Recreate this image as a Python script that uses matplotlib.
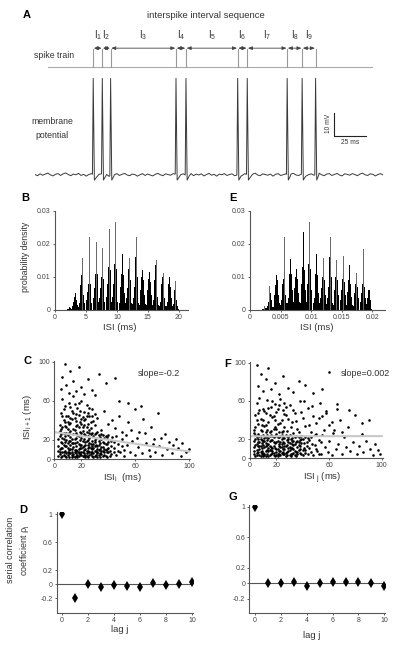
import matplotlib
matplotlib.use('Agg')
import matplotlib.pyplot as plt
import numpy as np

plt.rcParams['font.family'] = ['Liberation Sans', 'DejaVu Sans']
plt.rcParams['mathtext.fontset'] = 'custom'
plt.rcParams['mathtext.rm'] = 'Liberation Sans'
plt.rcParams['mathtext.it'] = 'Liberation Sans'

# ============ data ============
# spike times (ms) of the example trace
spike_times = [45.5, 52.6, 59.1, 110.2, 118.0, 158.4, 165.9, 197.1, 208.8, 219.3]
spike_peak = 42.0      # mV above baseline
ahp_depth = -2.2       # mV after each spike
# baseline noise of the membrane potential, one value every 2 ms (mV)
noise_mv = [0.2, -0.3, 0.5, -0.1, 0.4, 0.8, 0.1, -0.4, 0.3, 0.6, -0.2, 0.5, 0.9, 0.2, -0.3, 0.4,
            0.1, 0.7, -0.2, 0.3, -0.5, 0.2, 0.6, 0.0, -0.4, 0.3, 0.5, -0.1, 0.2, -0.6, 0.4, 0.1,
            0.6, -0.2, 0.3, 0.7, 0.0, -0.3, 0.4, 0.2, -0.5, 0.1, 0.6, -0.2, 0.4, 0.0, -0.4, 0.3,
            0.7, 0.1, -0.3, 0.5, 0.2, -0.1, 0.6, 0.3, -0.4, 0.2, 0.5, -0.2, 0.1, 0.6, -0.3, 0.4,
            0.0, 0.5, -0.4, 0.2, 0.7, -0.1, 0.3, -0.5, 0.4, 0.1, 0.6, -0.2, 0.2, 0.5, -0.3, 0.0,
            0.4, -0.2, 0.6, 0.1, -0.4, 0.3, 0.8, 0.0, -0.3, 0.5, 0.2, -0.1, 0.4, -0.5, 0.3, 0.6,
            -0.2, 0.1, 0.5, -0.3, 0.4, 0.7, 0.0, -0.2, 0.3, 0.6, -0.4, 0.2, 0.5, -0.1, 0.3, 0.8,
            0.1, -0.3, 0.4, 0.6, -0.2, 0.2, 0.7, 0.0, -0.4, 0.5, 0.3, -0.1, 0.6, 0.2, -0.3, 0.4,
            0.8, 0.1, -0.2, 0.5, 0.3, -0.4, 0.2, 0.6, 0.0]

# ISI histogram: cluster centres (ms) and bar heights (x1e-3) around each centre
hist_centres = [2.42, 3.23, 4.30, 5.48, 6.61, 7.58, 8.71, 9.68, 10.86, 11.94,
                13.06, 14.09, 15.22, 16.24, 17.37, 18.49, 19.46]
hist_heights = [
    [0.1, 0.2, 0.4, 0.8, 1.3, 0.7, 0.3, 0.1, 0.0],
    [0.5, 1.2, 2.4, 4.0, 7.3, 5.0, 3.0, 1.5, 0.8],
    [1.0, 2.2, 4.5, 7.5, 10.5, 15.6, 9.0, 4.5, 2.0],
    [1.5, 3.0, 5.5, 8.0, 9.5, 22.1, 8.0, 4.5, 2.0],
    [2.0, 3.5, 6.5, 11.0, 15.5, 20.6, 11.0, 6.0, 2.5],
    [2.0, 3.5, 6.5, 10.0, 12.5, 18.8, 9.5, 5.0, 2.5],
    [2.0, 4.0, 8.0, 13.0, 23.5, 24.5, 12.0, 6.0, 2.5],
    [2.0, 4.0, 8.0, 14.0, 18.0, 26.5, 12.5, 6.0, 2.5],
    [2.0, 3.5, 7.0, 11.0, 17.0, 18.2, 10.5, 5.0, 2.0],
    [1.8, 3.5, 6.5, 10.0, 12.5, 15.6, 9.0, 4.5, 2.0],
    [1.8, 3.5, 7.0, 11.0, 16.0, 22.1, 10.0, 5.0, 2.0],
    [1.5, 3.0, 6.0, 10.0, 12.0, 15.1, 9.0, 4.5, 1.8],
    [1.5, 3.0, 6.0, 9.5, 11.5, 16.3, 8.5, 4.5, 1.8],
    [1.5, 3.0, 5.5, 9.0, 13.5, 15.1, 8.0, 4.0, 1.5],
    [1.2, 2.5, 5.0, 8.0, 10.0, 11.3, 7.0, 3.5, 1.2],
    [1.2, 2.5, 5.0, 8.0, 10.0, 18.3, 7.0, 3.5, 1.2],
    [0.8, 1.8, 3.5, 6.0, 8.8, 6.0, 3.0, 1.2, 0.3],
]
bin_ms = 0.12

# return maps (ISI_i, ISI_i+1) in ms
pairs_c = [(4,5),(6,12),(8,3),(9,20),(10,8),(12,15),(13,4),(14,26),(15,10),(16,6),(17,18),(18,3),
           (19,12),(20,22),(21,7),(22,14),(23,4),(24,28),(25,9),(26,17),(27,5),(28,11),(29,24),(30,3),
           (31,15),(32,8),(33,19),(34,6),(35,13),(36,25),(37,4),(38,10),(39,16),(40,7),
           (5,18),(7,27),(8,9),(10,31),(11,2),(12,6),(13,21),(14,13),(15,30),(16,3),(17,9),(18,24),
           (19,5),(20,15),(21,29),(22,3),(23,11),(24,19),(25,2),(26,8),(27,26),(28,14),(29,6),(30,20),
           (31,4),(32,28),(33,10),(34,2),(35,21),(36,9),(38,3),(39,23),
           (3,9),(4,24),(6,3),(7,15),(9,6),(11,19),(12,29),(13,11),(15,2),(16,22),(18,16),(20,4),
           (22,26),(23,18),(25,12),(26,4),(28,19),(30,9),(32,14),(34,23),(36,3),(37,17),(40,12),
           (3,3),(4,11),(5,26),(6,8),(7,21),(8,14),(9,2),(10,17),(11,10),(12,23),(13,7),(14,3),
           (15,17),(16,27),(17,4),(18,11),(19,20),(20,8),(21,13),(22,21),(23,2),(24,9),(25,24),
           (26,13),(27,8),(28,3),(29,16),(30,26),(31,9),(32,2),(33,15),(34,11),(35,5),(36,18),
           (37,11),(38,24),(39,7),(40,18),(5,2),(6,17),(7,7),(8,24),(9,14),(10,4),(11,27),(12,11),
           (13,17),(14,5),(15,21),(16,14),(17,2),(18,8),(19,28),(20,12),(21,19),(22,6),(23,25),
           (24,3),(25,15),(26,22),(27,12),(28,27),(29,2),(30,14),(31,22),(32,6),(33,25),(35,9),
           (37,22),(39,11),(41,3),(42,14),(44,8),(43,23),
           (3,14),(4,7),(5,12),(6,22),(7,4),(8,18),(9,27),(10,12),(11,6),(12,19),(13,2),(14,17),
           (15,7),(16,10),(17,25),(18,6),(19,15),(20,27),(21,3),(22,10),(23,15),(24,6),(25,20),
           (26,27),(27,16),(28,7),(29,12),(30,18),(31,27),(32,11),(33,4),(34,17),(35,26),(36,13),
           (37,7),(38,16),(39,2),(40,25),(41,9),(42,19),(44,12),(46,4),(47,16),(49,7),(50,21),
           (52,10),(54,15),(3,21),(4,29),(6,33),(8,38),(10,25),(12,42),(14,48),(16,39),(18,33),
           (20,41),(22,35),(24,45),(26,30),
           (4,35),(5,48),(6,62),(7,40),(8,55),(9,33),(10,44),(11,58),(12,37),(13,50),(14,65),(15,42),
           (16,34),(17,53),(18,46),(19,38),(20,60),(21,33),(22,49),(23,41),(24,56),(25,36),(26,45),
           (27,32),(28,52),(29,39),(30,47),(5,31),(7,52),(9,45),(11,36),(13,41),(15,57),(17,35),
           (19,50),(21,43),(25,48),(27,38),(6,44),(8,34),(10,38),(12,54),(14,31),(16,47),(18,58),
           (20,36),(22,40),(24,33),(26,53),(28,44),(30,35),(32,42),(35,30),(37,50),(40,36),
           (5,72),(6,85),(8,98),(9,76),(11,68),(12,91),(14,80),(16,70),(18,95),(20,74),(22,67),
           (25,83),(28,71),(33,88),(38,78),(45,84),(30,66),
           (42,5),(44,18),(45,32),(47,9),(48,45),(50,14),(52,3),(53,25),(55,38),(56,8),(58,19),
           (60,52),(60,4),(62,13),(63,28),(65,6),(66,41),(68,17),(70,10),(71,3),(72,33),(74,21),
           (75,8),(77,48),(78,14),(80,4),(82,26),(84,11),(85,18),(87,6),(90,21),(92,12),(94,3),
           (95,17),(98,8),(100,11),(55,58),(64,55),(48,60),(50,28),(43,40),(46,24),(57,30),(61,22),
           (67,27),(73,16),(79,22),(88,15)]
pairs_f = [(3,4),(4,14),(5,22),(6,7),(7,17),(8,2),(9,11),(10,24),(11,5),(12,16),(13,9),(14,21),
           (15,3),(16,12),(17,19),(18,6),(19,23),(20,10),(21,2),(22,15),(23,8),(24,20),(25,4),(26,13),
           (27,24),(28,7),(29,17),(30,3),(31,11),(32,21),(33,6),(34,15),(35,2),(36,18),(37,9),(38,13),
           (39,4),(40,20),(3,18),(5,9),(6,25),(7,3),(8,13),(9,19),(10,6),(11,21),(12,2),(13,14),
           (14,8),(15,23),(16,5),(17,11),(18,17),(20,3),(21,18),(22,8),(23,23),(24,12),(25,17),
           (26,5),(28,14),(29,22),(30,9),(32,4),(34,22),(36,7),(38,19),
           (3,8),(4,20),(5,3),(6,13),(7,23),(8,7),(9,16),(10,2),(11,12),(12,22),(13,4),(14,15),
           (15,9),(16,24),(17,6),(18,13),(19,2),(20,17),(21,10),(22,22),(23,3),(24,15),(25,10),
           (26,21),(27,6),(28,19),(29,11),(30,24),(31,5),(32,15),(33,10),(34,3),(35,17),(36,12),
           (37,22),(38,6),(39,16),(40,9),(4,2),(5,15),(6,20),(7,10),(8,23),(9,4),(10,14),(11,18),
           (12,8),(13,24),(14,2),(15,13),(16,19),(17,8),(18,22),(19,11),(20,25),(21,5),(22,13),
           (23,17),(24,6),(25,22),(26,10),(27,2),(28,23),(29,8),(30,16),(31,20),(32,11),(33,18),
           (35,7),(37,14),(39,23),(41,11),(42,22),(44,4),(43,13),(45,19),
           (3,12),(4,24),(5,6),(6,17),(7,13),(8,20),(9,8),(10,18),(11,3),(12,13),(13,19),(14,11),
           (15,18),(16,9),(17,23),(18,3),(19,16),(20,7),(21,22),(22,4),(23,12),(24,24),(25,7),
           (26,16),(27,13),(28,3),(29,20),(30,12),(31,2),(32,18),(33,14),(34,8),(35,23),(36,4),
           (37,17),(38,10),(39,20),(40,3),(41,16),(42,9),(44,21),(46,7),(47,15),(49,24),(50,10),
           (52,4),(54,17),(3,26),(4,33),(6,47),(8,30),(10,40),(12,35),(14,53),(16,29),(18,44),
           (20,31),(22,56),(24,28),(26,46),
           (3,30),(4,45),(5,58),(6,36),(7,63),(8,41),(9,29),(10,52),(11,34),(12,47),(13,61),(14,38),
           (15,27),(16,54),(17,43),(18,31),(19,57),(20,48),(21,36),(22,28),(23,62),(24,40),(25,51),
           (26,33),(27,45),(28,29),(30,56),(32,38),(34,47),(36,31),(38,60),(40,42),(42,34),(44,53),
           (46,28),(48,44),(50,37),(53,58),(56,30),(58,49),(60,35),(7,50),(12,27),(19,40),(26,58),
           (33,26),(47,55),(5,40),(9,35),(11,49),(13,30),(15,45),(17,60),(19,33),(21,52),(23,37),
           (25,29),(27,54),(29,41),(31,33),(33,51),(35,39),(37,28),(39,48),(41,60),(50,25),(55,44),
           (64,30),
           (5,98),(6,76),(8,88),(10,70),(12,83),(14,94),(16,72),(19,79),(22,67),(25,86),(29,74),
           (33,69),(37,81),(42,77),(48,68),(55,72),(60,90),(66,57),
           (42,6),(43,17),(45,11),(46,22),(48,3),(49,14),(51,8),(52,19),(54,4),(55,24),(57,12),
           (59,7),(60,18),(62,3),(63,26),(65,10),(67,15),(68,40),(70,5),(71,22),(73,12),(74,33),
           (76,8),(78,17),(80,45),(81,4),(83,13),(85,25),(86,7),(88,18),(90,40),(91,10),(93,3),
           (95,15),(97,9),(99,5),(75,50),(85,37),(66,52),(58,47),(70,28),(45,35),(52,42),(62,38)]
fit_c = (28.0, -0.2)     # intercept, slope
fit_f = (23.0, 0.002)

# serial correlation coefficients
lags = list(range(11))
rho_d = [1.0, -0.2, 0.0, -0.043, -0.005, -0.024, -0.038, 0.014, -0.005, 0.0, 0.028]
rho_g = [1.0, 0.0, 0.0, 0.02, -0.03, 0.01, 0.02, 0.02, 0.02, 0.01, -0.03]

# ============ figure ============
W, H = 400, 649
fig = plt.figure(figsize=(W / 100, H / 100), dpi=100)
dark = '#333333'


def add_ax(l, t, r, b):
    return fig.add_axes([l / W, 1 - b / H, (r - l) / W, (b - t) / H])


def ftext(x, y, s, **kw):
    fig.text(x / W, 1 - y / H, s, **kw)


def style(ax):
    for s in ['top', 'right']:
        ax.spines[s].set_visible(False)
    for s in ['left', 'bottom']:
        ax.spines[s].set_color('#555555')
        ax.spines[s].set_linewidth(0.8)
    ax.tick_params(labelsize=5, colors='#444444', length=1.5, width=0.6, pad=1.5, direction='out')


# --- A: spike train + membrane potential ---
ax_tr = add_ax(35, 28, 383, 70)
ax_tr.set_xlim(0, 272)
ax_tr.set_ylim(0, 1)
ax_tr.axis('off')
ax_tr.plot([10.2, 263.3], [0.079, 0.079], color='#aaaaaa', lw=0.8)
for t in spike_times:
    ax_tr.plot([t, t], [0.079, 0.49], color='#999999', lw=0.8)
for i in range(len(spike_times) - 1):
    t0, t1 = spike_times[i], spike_times[i + 1]
    ax_tr.annotate('', xy=(t1 - 0.5, 0.52), xytext=(t0 + 0.5, 0.52),
                   arrowprops=dict(arrowstyle='<|-|>,head_length=0.25,head_width=0.1',
                                   color='#444444', lw=0.6, shrinkA=0, shrinkB=0))
    ax_tr.text((t0 + t1) / 2, 0.83, r'$\mathregular{I_{%d}}$' % (i + 1), ha='center', va='center',
               fontsize=7, color=dark)

ax_v = add_ax(35, 40, 383, 185)
ax_v.set_xlim(0, 272)
ax_v.set_ylim(-4.35, 58.7)
ax_v.axis('off')
ax_v.patch.set_alpha(0)
t_base = np.arange(len(noise_mv)) * 2.0
v_base = np.array(noise_mv)
keep = np.ones(len(t_base), bool)
tt, vv = [], []
for t in spike_times:
    keep &= ~((t_base > t - 0.6) & (t_base < t + 2.6))
    tt += [t - 0.6, t, t + 0.9, t + 2.6]
    vv += [np.interp(t - 0.6, t_base, v_base), spike_peak, ahp_depth, np.interp(t + 2.6, t_base, v_base) - 0.6]
tt = np.concatenate([t_base[keep], tt])
vv = np.concatenate([v_base[keep], vv])
order = np.argsort(tt)
ax_v.plot(tt[order], vv[order], color='#3a3a3a', lw=0.7)
# scale bar 10 mV / 25 ms
ax_v.plot([233.8, 233.8, 258.8], [27, 17, 17], color='#222222', lw=0.8)

ftext(27, 15, 'A', fontsize=8, fontweight='bold', ha='center', va='center')
ftext(206, 15, 'interspike interval sequence', fontsize=6.8, ha='center', va='center', color=dark)
ftext(34, 55, 'spike train', fontsize=6.3, ha='left', va='center', color=dark)
ftext(52, 122, 'membrane', fontsize=6.3, ha='center', va='center', color=dark)
ftext(52, 136, 'potential', fontsize=6.3, ha='center', va='center', color=dark)
ftext(328, 123, '10 mV', fontsize=4.8, rotation=90, ha='center', va='center', color=dark)
ftext(350, 143, '25 ms', fontsize=4.8, ha='center', va='center', color=dark)

# --- B / E: ISI histograms ---
centres = np.repeat(hist_centres, 9) + np.tile(np.arange(-4, 5) * bin_ms, len(hist_centres))
heights = np.array(hist_heights)
bar_cols = np.where(heights == heights.max(axis=1, keepdims=True), '#6a6a6a', 'black').ravel()
heights = heights.ravel() * 1e-3

ax_b = add_ax(55, 210.7, 188, 310)
ax_b.bar(centres, heights, width=bin_ms, color=bar_cols, linewidth=0)
ax_b.set_xlim(0, 21.5)
ax_b.set_ylim(0, 0.03)
ax_b.set_xticks([0, 5, 10, 15, 20])
ax_b.set_yticks([0, 0.01, 0.02, 0.03])
ax_b.set_yticklabels(['0', '0.01', '0.02', '0.03'])
style(ax_b)

ax_e = add_ax(250, 210.7, 385, 310)
ax_e.bar(centres / 1000, heights, width=bin_ms / 1000, color=bar_cols, linewidth=0)
ax_e.set_xlim(0, 0.0221)
ax_e.set_ylim(0, 0.03)
ax_e.set_xticks([0, 0.005, 0.01, 0.015, 0.02])
ax_e.set_xticklabels(['0', '0.005', '0.01', '0.015', '0.02'])
ax_e.set_yticks([0, 0.01, 0.02, 0.03])
ax_e.set_yticklabels(['0', '0.01', '0.02', '0.03'])
style(ax_e)

ftext(25, 198, 'B', fontsize=8, fontweight='bold', ha='center', va='center')
ftext(233, 198, 'E', fontsize=8, fontweight='bold', ha='center', va='center')
ftext(25, 257, 'probability density', fontsize=6.3, rotation=90, ha='center', va='center', color=dark)
ftext(120, 327, 'ISI (ms)', fontsize=6.8, ha='center', va='center', color=dark)
ftext(317, 327, 'ISI (ms)', fontsize=6.8, ha='center', va='center', color=dark)

# --- C / F: return maps ---
for (l, r, top, bot), pairs, fit, slope_txt, sx in [
        ((54.3, 190, 361, 459.3), pairs_c, fit_c, 'slope=-0.2', 159),
        ((250, 382.7, 361.7, 458.3), pairs_f, fit_f, 'slope=0.002', 365)]:
    ax = add_ax(l, top, r, bot)
    xs = [p[0] for p in pairs]
    ys = [p[1] for p in pairs]
    ax.scatter(xs, ys, s=3.5, color='black', linewidths=0)
    xl = np.array([0, 100])
    ax.plot(xl, fit[0] + fit[1] * xl, color='#c8c8c8', lw=1.5)
    ax.set_xlim(0, 100.7)
    ax.set_ylim(0, 101)
    ax.set_xticks([0, 20, 60, 100])
    ax.set_yticks([0, 20, 60, 100])
    style(ax)
    ftext(sx, 373, slope_txt, fontsize=6.5, ha='center', va='center', color=dark)

ftext(27, 361, 'C', fontsize=8, fontweight='bold', ha='center', va='center')
ftext(228, 364, 'F', fontsize=8, fontweight='bold', ha='center', va='center')
ftext(28, 417, r'ISI$_{\mathregular{i+1}}$ (ms)', fontsize=6.8, rotation=90, ha='center', va='center', color=dark)
ftext(123, 478, r'ISI$_{\mathregular{i}}$  (ms)', fontsize=6.8, ha='center', va='center', color=dark)
ftext(322, 478, r'ISI$_{\mathregular{\ j}}$ (ms)', fontsize=6.8, ha='center', va='center', color=dark)

# --- D / G: serial correlation ---
for (l, r, top, bot), rho, xlim, ylim, xlab_y in [
        ((56.7, 193.3, 511.7, 613.3), rho_d, (-0.385, 10.1), (-0.412, 1.033), 630),
        ((249.3, 385, 505, 613.3), rho_g, (-0.44, 10.05), (-0.39, 1.02), 635)]:
    ax = add_ax(l, top, r, bot)
    ax.axhline(0, color='#555555', lw=0.8)
    ax.plot(lags, rho, 'd', color='black', ms=5.5, mew=0)
    ax.set_xlim(*xlim)
    ax.set_ylim(*ylim)
    ax.set_xticks([0, 2, 4, 6, 8, 10])
    ax.set_yticks([-0.2, 0, 0.2, 0.6, 1])
    ax.set_yticklabels(['-0.2', '0', '0.2', '0.6', '1'])
    style(ax)
    ftext((l + r) / 2 - 5, xlab_y, 'lag j', fontsize=6.8, ha='center', va='center', color=dark)

ftext(23, 510, 'D', fontsize=8, fontweight='bold', ha='center', va='center')
ftext(233, 497, 'G', fontsize=8, fontweight='bold', ha='center', va='center')
ftext(11, 550, 'serial correlation', fontsize=6.5, rotation=90, ha='center', va='center', color=dark)
ftext(25, 550, r'coefficient $\rho_{\mathregular{j}}$', fontsize=6.5, rotation=90, ha='center', va='center', color=dark)

plt.savefig('out.png', dpi=100)
